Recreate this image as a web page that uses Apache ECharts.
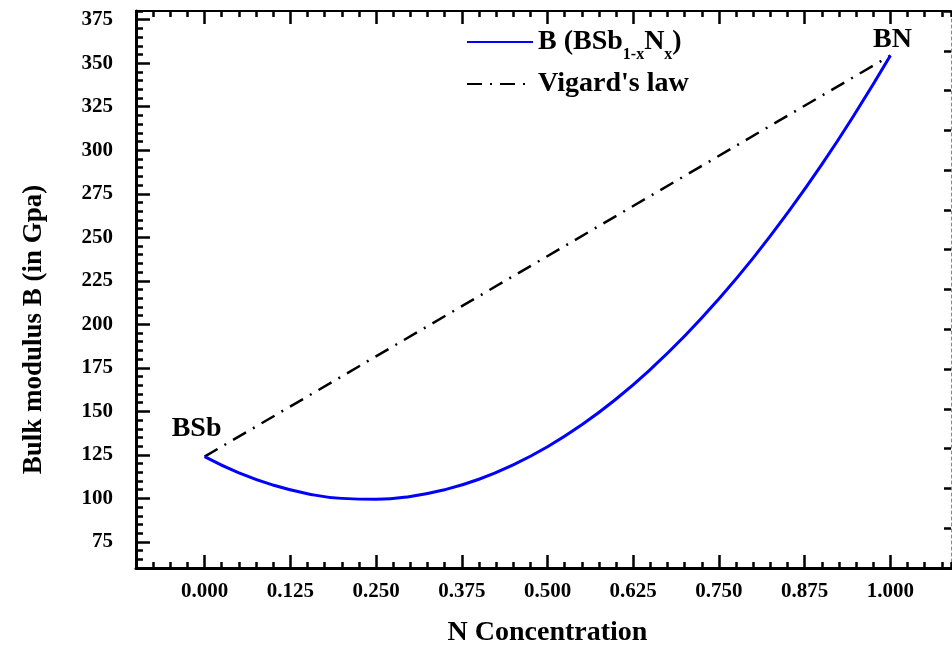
<!DOCTYPE html>
<html><head><meta charset="utf-8">
<script src="https://cdn.jsdelivr.net/npm/echarts@6/dist/echarts.min.js"></script>
<style>html,body{margin:0;padding:0;background:#fff}#c{width:952px;height:655px}</style>
</head><body><div id="c"></div>
<script>
// ---- data ----
const nConc = [0, 0.05, 0.10, 0.15, 0.20, 0.25, 0.30, 0.35, 0.40, 0.45, 0.50,
               0.55, 0.60, 0.65, 0.70, 0.75, 0.80, 0.85, 0.90, 0.95, 1.00];
const bulkB = [124.0, 114.7, 107.6, 102.7, 100.0, 99.5, 101.1, 105.0, 111.0, 119.3, 129.7,
               142.3, 157.1, 174.1, 193.3, 214.7, 238.2, 264.0, 291.9, 322.1, 354.4];
const vegardX = [0, 1];
const vegardB = [124.0, 354.4];
const endLabels = ['BSb', 'BN'];
const xTickValues = [0, 0.125, 0.25, 0.375, 0.5, 0.625, 0.75, 0.875, 1.0];
const yTickValues = [75, 100, 125, 150, 175, 200, 225, 250, 275, 300, 325, 350, 375];
const seriesNames = ['B (BSb1-xNx)', "Vigard's law"];
const xTitle = 'N Concentration';
const yTitle = 'Bulk modulus B (in Gpa)';

const FONT = "'Liberation Serif','Times New Roman',serif";
const XMIN = -0.1, XMAX = 1.0883, YMIN = 60, YMAX = 380;

const chart = echarts.init(document.getElementById('c'), null, {renderer: 'canvas'});

const hidden = {show: false};
function xAxisBase(extra) {
  return Object.assign({
    type: 'value', gridIndex: 0, min: XMIN, max: XMAX,
    splitLine: hidden, axisLabel: {show: false}
  }, extra);
}
function yAxisBase(extra) {
  return Object.assign({
    type: 'value', gridIndex: 0, min: YMIN, max: YMAX,
    splitLine: hidden, axisLabel: {show: false}
  }, extra);
}

const vegardData = vegardX.map((x, i) => ({
  value: [x, vegardB[i]],
  label: i === 0
    ? {show: true, formatter: endLabels[0], position: 'top', distance: 14, offset: [-8, 0]}
    : {show: true, formatter: endLabels[1], position: 'top', distance: 4, offset: [2, 2]}
}));

const legendCommon = {
  left: 466, padding: 0, itemWidth: 66, itemHeight: 14, selectedMode: false,
  itemStyle: {color: 'rgba(0,0,0,0)', borderWidth: 0, opacity: 0}
};

const option = {
  animation: false,
  backgroundColor: '#fff',
  grid: {left: 136, top: 11, right: 1, bottom: 87, containLabel: false},
  xAxis: [
    xAxisBase({
      position: 'bottom',
      name: xTitle, nameLocation: 'middle', nameGap: 51,
      nameTextStyle: {fontFamily: FONT, fontWeight: 'bold', fontSize: 28, color: '#000', padding: [0, 0, 0, 8]},
      axisLine: {show: true, onZero: false, lineStyle: {color: '#000', width: 3}},
      axisTick: {show: true, inside: true, length: 13, customValues: xTickValues, lineStyle: {color: '#000', width: 2.5}},
      axisLabel: {show: true, customValues: xTickValues, margin: 13, formatter: v => v.toFixed(3),
        fontFamily: FONT, fontWeight: 'bold', fontSize: 21, color: '#000'}
    }),
    xAxisBase({
      position: 'bottom', interval: 0.025,
      axisLine: {show: false, onZero: false},
      axisTick: {show: true, inside: true, length: 6, lineStyle: {color: '#000', width: 2.5}}
    }),
    xAxisBase({
      position: 'top',
      axisLine: {show: true, onZero: false, lineStyle: {color: '#000', width: 2}},
      axisTick: {show: true, inside: true, length: 13, customValues: xTickValues, lineStyle: {color: '#000', width: 2.5}}
    }),
    xAxisBase({
      position: 'top', interval: 0.025,
      axisLine: {show: false, onZero: false},
      axisTick: {show: true, inside: true, length: 6, lineStyle: {color: '#000', width: 2.5}}
    })
  ],
  yAxis: [
    yAxisBase({
      position: 'left',
      name: yTitle, nameLocation: 'middle', nameGap: 88,
      nameTextStyle: {fontFamily: FONT, fontWeight: 'bold', fontSize: 27, color: '#000', padding: [0, 80, 0, 0]},
      axisLine: {show: true, onZero: false, lineStyle: {color: '#000', width: 3}},
      axisTick: {show: true, inside: true, length: 14, customValues: yTickValues, lineStyle: {color: '#000', width: 2.5}},
      axisLabel: {show: true, customValues: yTickValues, margin: 23,
        fontFamily: FONT, fontWeight: 'bold', fontSize: 21, color: '#000'}
    }),
    yAxisBase({
      position: 'left', interval: 5,
      axisLine: {show: false, onZero: false},
      axisTick: {show: true, inside: true, length: 7, lineStyle: {color: '#000', width: 2.5}}
    }),
    {
      type: 'value', gridIndex: 0, position: 'right', min: 0, max: 14, interval: 1,
      splitLine: hidden, axisLabel: {show: false},
      axisLine: {show: true, onZero: false, lineStyle: {color: '#888', width: 1, type: [3, 3]}},
      axisTick: {show: true, inside: true, length: 7, lineStyle: {color: '#000', width: 2.5}}
    }
  ],
  legend: [
    Object.assign({}, legendCommon, {
      data: [seriesNames[0]], top: 28,
      formatter: () => 'B (BSb{s|1-x}N{s|x})',
      textStyle: {fontFamily: FONT, fontWeight: 'bold', fontSize: 28, color: '#000',
        rich: {s: {fontFamily: FONT, fontWeight: 'bold', fontSize: 16, color: '#000', padding: [26, 0, 0, 0]}}}
    }),
    Object.assign({}, legendCommon, {
      data: [seriesNames[1]], top: 70,
      textStyle: {fontFamily: FONT, fontWeight: 'bold', fontSize: 28, color: '#000'}
    })
  ],
  series: [
    {
      name: seriesNames[0], type: 'line', xAxisIndex: 0, yAxisIndex: 0,
      data: nConc.map((x, i) => [x, bulkB[i]]),
      smooth: true, symbol: 'none', showSymbol: false,
      lineStyle: {color: '#0000ff', width: 3}, itemStyle: {color: '#0000ff'}, z: 3
    },
    {
      name: seriesNames[1], type: 'line', xAxisIndex: 0, yAxisIndex: 0,
      data: vegardData, symbol: 'circle', symbolSize: 0.01, showSymbol: true,
      lineStyle: {color: '#000', width: 2.5, type: [15, 8, 2, 8]}, itemStyle: {color: '#000'},
      label: {fontFamily: FONT, fontWeight: 'bold', fontSize: 28, color: '#000'}, z: 2
    }
  ]
};
chart.setOption(option);
</script></body></html>
